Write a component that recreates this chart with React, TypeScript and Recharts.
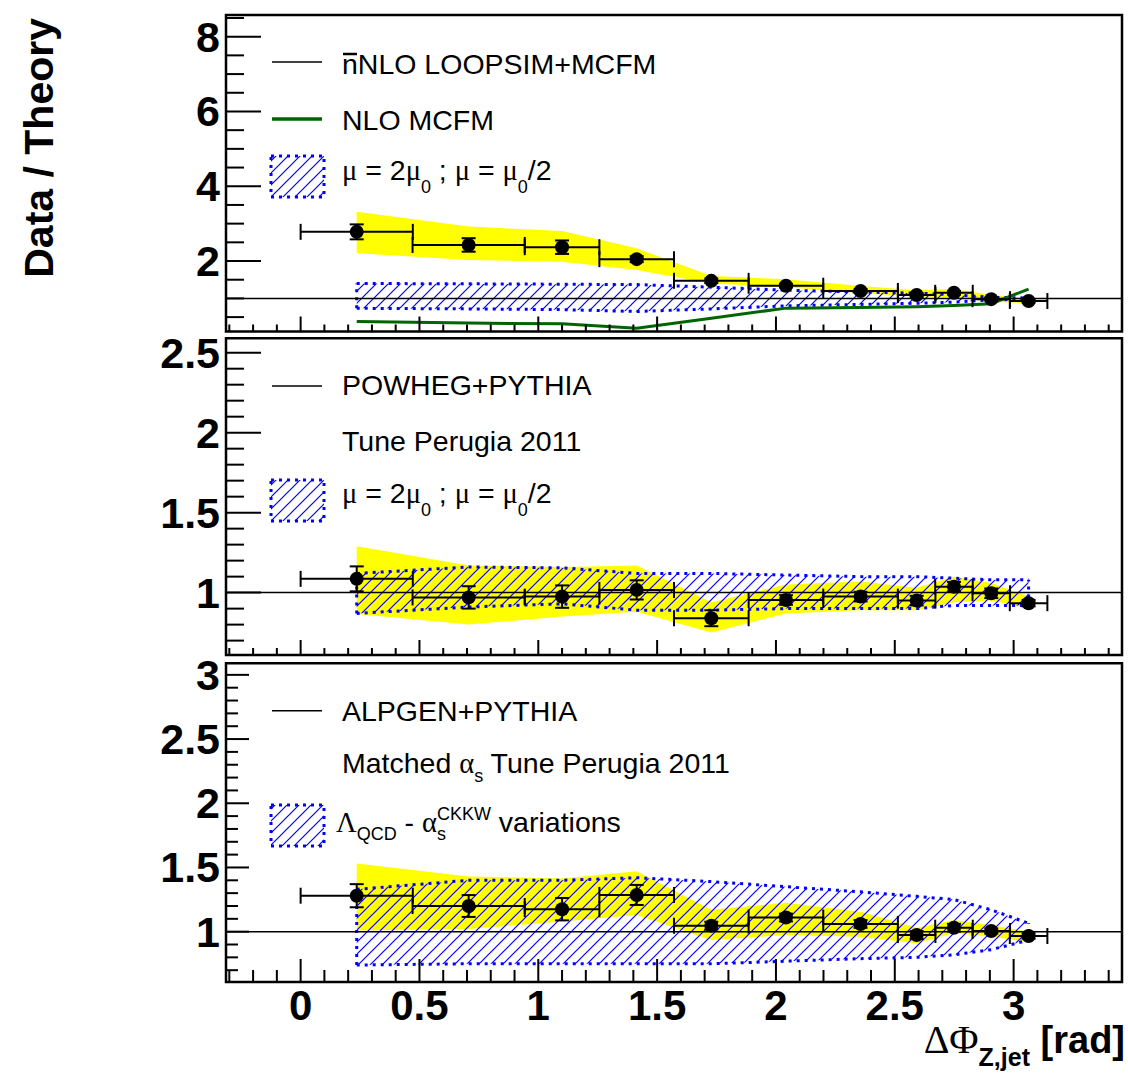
import React from "react";
import {
  ComposedChart,
  Area,
  Line,
  Scatter,
  ErrorBar,
  XAxis,
  YAxis,
  ReferenceLine,
  ReferenceArea,
  Legend,
} from "recharts";

const SANS = "'Liberation Sans', Arial, Helvetica, sans-serif";
const SERIF = "'Liberation Serif', 'Times New Roman', serif";
const YELLOW = "#ffff00";
const BLUE = "#0000ff";
const GREEN = "#006400";

// ΔΦ(Z,jet) bins in rad: centres and half-widths
const binCenters = [0.236, 0.707, 1.1, 1.414, 1.728, 2.042, 2.356, 2.592, 2.749, 2.906, 3.063];
const binHalfWidths = [0.236, 0.236, 0.157, 0.157, 0.157, 0.157, 0.157, 0.079, 0.079, 0.079, 0.079];

const xDomain: [number, number] = [-0.314, 3.456];
const xMajorTicks = [0, 0.5, 1, 1.5, 2, 2.5, 3];

// panel 1: data / nNLO LoopSim+MCFM
const loopsimRatio = [2.78, 2.43, 2.37, 2.05, 1.47, 1.34, 1.2, 1.09, 1.15, 0.98, 0.93];
const loopsimStat = [0.2, 0.18, 0.18, 0.08, 0.06, 0.05, 0.05, 0.05, 0.05, 0.04, 0.04];
const loopsimSystLo = [2.21, 2.03, 1.98, 1.76, 1.4, 1.3, 1.14, 1.05, 1.03, 0.91, 0.87];
const loopsimSystHi = [3.32, 2.92, 2.8, 2.34, 1.6, 1.51, 1.33, 1.22, 1.25, 1.09, 1.0];
const loopsimScaleLo = [0.735, 0.72, 0.7, 0.65, 0.72, 0.8, 0.84, 0.87, 0.9, 0.96, 0.98];
const loopsimScaleHi = [1.4, 1.39, 1.38, 1.37, 1.3, 1.22, 1.17, 1.14, 1.1, 1.03, 1.01];
const mcfmNloRatio = [0.38, 0.34, 0.32, 0.2, 0.47, 0.74, 0.76, 0.78, 0.81, 0.86, 1.25];
const loopsimYMajors = [2, 4, 6, 8];

// panel 2: data / POWHEG+PYTHIA
const powhegRatio = [1.086, 0.97, 0.975, 1.017, 0.84, 0.954, 0.975, 0.95, 1.037, 0.996, 0.934];
const powhegStat = [0.078, 0.07, 0.07, 0.06, 0.05, 0.03, 0.03, 0.03, 0.03, 0.03, 0.02];
const powhegSystLo = [0.867, 0.8, 0.85, 0.88, 0.75, 0.87, 0.89, 0.89, 0.94, 0.95, 0.9];
const powhegSystHi = [1.29, 1.17, 1.16, 1.17, 0.94, 1.05, 1.07, 1.03, 1.1, 1.06, 0.975];
const powhegScaleLo = [0.87, 0.91, 0.93, 0.89, 0.89, 0.9, 0.9, 0.9, 0.92, 0.92, 0.92];
const powhegScaleHi = [1.12, 1.16, 1.155, 1.12, 1.12, 1.11, 1.1, 1.1, 1.09, 1.08, 1.08];
const powhegYMajors = [1, 1.5, 2, 2.5];

// panel 3: data / ALPGEN+PYTHIA
const alpgenRatio = [1.28, 1.2, 1.175, 1.286, 1.047, 1.11, 1.06, 0.974, 1.031, 1.005, 0.966];
const alpgenStat = [0.09, 0.085, 0.087, 0.078, 0.03, 0.03, 0.03, 0.03, 0.03, 0.02, 0.02];
const alpgenSystLo = [1.01, 1.02, 1.08, 1.13, 0.935, 0.975, 0.96, 0.91, 0.99, 0.96, 0.92];
const alpgenSystHi = [1.53, 1.43, 1.415, 1.47, 1.17, 1.225, 1.155, 1.03, 1.09, 1.05, 1.0];
const alpgenVarLo = [0.74, 0.75, 0.75, 0.75, 0.75, 0.77, 0.79, 0.8, 0.82, 0.86, 0.935];
const alpgenVarHi = [1.33, 1.4, 1.4, 1.42, 1.39, 1.35, 1.31, 1.275, 1.25, 1.17, 1.065];
const alpgenYMajors = [1, 1.5, 2, 2.5, 3];

function tickRange(from: number, to: number, step: number) {
  const out: number[] = [];
  for (let v = from; v <= to + 1e-9; v += step) out.push(Math.round(v * 1000) / 1000);
  return out;
}

const xTicks = tickRange(-0.3, 3.4, 0.1);

type Row = {
  x: number;
  ex: number;
  y: number;
  ey: number;
  syst: [number, number];
  scale: [number, number];
  nlo?: number;
};

function buildRows(
  ratio: number[],
  stat: number[],
  systLo: number[],
  systHi: number[],
  scaleLo: number[],
  scaleHi: number[],
  nlo?: number[]
): Row[] {
  return binCenters.map((x, i) => ({
    x,
    ex: binHalfWidths[i],
    y: ratio[i],
    ey: stat[i],
    syst: [systLo[i], systHi[i]],
    scale: [scaleLo[i], scaleHi[i]],
    nlo: nlo ? nlo[i] : undefined,
  }));
}

const isIn = (list: number[], v: number) => list.some((m) => Math.abs(m - v) < 1e-6);

function makeYTick(majors: number[], majorLen: number, minorLen: number) {
  return function YTick(props: any) {
    const { x, y, payload } = props;
    const v = payload.value as number;
    const major = isIn(majors, v);
    return (
      <g>
        <line x1={x} x2={x + (major ? majorLen : minorLen)} y1={y} y2={y} stroke="#000" strokeWidth={2} />
        {major && (
          <text x={x - 6} y={y + 15} textAnchor="end" fontFamily={SANS} fontWeight="bold" fontSize={43} fill="#000">
            {String(v)}
          </text>
        )}
      </g>
    );
  };
}

function makeXTick(majorLen: number, minorLen: number, labels: boolean) {
  return function XTick(props: any) {
    const { x, y, payload } = props;
    const v = payload.value as number;
    const major = isIn(xMajorTicks, v);
    return (
      <g>
        <line x1={x} x2={x} y1={y} y2={y - (major ? majorLen : minorLen)} stroke="#000" strokeWidth={2} />
        {labels && major && (
          <text x={x} y={y + 38} textAnchor="middle" fontFamily={SANS} fontWeight="bold" fontSize={42} fill="#000">
            {String(v)}
          </text>
        )}
      </g>
    );
  };
}

function YTitle() {
  return (
    <text
      transform="translate(53,18) rotate(-90)"
      textAnchor="end"
      fontFamily={SANS}
      fontWeight="bold"
      fontSize={41}
      fill="#000"
    >
      Data / Theory
    </text>
  );
}

// chart-local coordinates of the bottom panel (its div sits at top 639)
function XTitle() {
  return (
    <text x={1125} y={414} textAnchor="end" fill="#000" style={{ whiteSpace: "pre" }}>
      <tspan fontFamily={SERIF} fontSize={40}>ΔΦ</tspan>
      <tspan fontFamily={SANS} fontWeight="bold" fontSize={25} dy={13}>Z,jet</tspan>
      <tspan fontFamily={SANS} fontWeight="bold" fontSize={38} dy={-13}>{" [rad]"}</tspan>
    </text>
  );
}

function HatchPattern({ id }: { id: string }) {
  return (
    <pattern id={id} patternUnits="userSpaceOnUse" width={12} height={12}>
      <path
        d="M0,12 L12,0 M-3,3 L3,-3 M9,15 L15,9"
        fill="none"
        stroke={BLUE}
        strokeWidth={1.2}
        style={{ stroke: BLUE }}
      />
    </pattern>
  );
}

function LegendLayer({ offset, height, hatchId, children }: { offset: number; height: number; hatchId: string; children: React.ReactNode }) {
  return (
    <svg width={1128} height={height} style={{ position: "absolute", left: 0, top: 0, overflow: "visible" }}>
      <defs>
        <HatchPattern id={hatchId} />
      </defs>
      <g transform={`translate(0,${-offset})`} fontFamily={SANS} fontSize={28.5} style={{ whiteSpace: "pre" }}>
        {children}
      </g>
    </svg>
  );
}

function HatchBox({ y, id }: { y: number; id: string }) {
  return (
    <rect x={271} y={y} width={53} height={41} fill={`url(#${id})`} stroke={BLUE} strokeWidth={3} strokeDasharray="3 5" />
  );
}

function MuRow({ y }: { y: number }) {
  return (
    <text x={342} y={y} fill="#000">
      <tspan fontFamily={SERIF}>μ</tspan>
      <tspan>{" = 2"}</tspan>
      <tspan fontFamily={SERIF}>μ</tspan>
      <tspan fontSize={18} dy={13}>0</tspan>
      <tspan dy={-13}>{" ; "}</tspan>
      <tspan fontFamily={SERIF}>μ</tspan>
      <tspan>{" = "}</tspan>
      <tspan fontFamily={SERIF}>μ</tspan>
      <tspan fontSize={18} dy={13}>0</tspan>
      <tspan dy={-13}>/2</tspan>
    </text>
  );
}

interface PanelProps {
  top: number;
  height: number;
  marginTop: number;
  marginBottom: number;
  yDomain: [number, number];
  yMajors: number[];
  yTicks: number[];
  yMajorLen: number;
  yMinorLen: number;
  xMajorLen: number;
  xMinorLen: number;
  rows: Row[];
  hatchId: string;
  showNlo?: boolean;
  xLabels?: boolean;
  yTitle?: boolean;
  legend: React.ReactNode;
}

function Panel(p: PanelProps) {
  const first = p.rows[0];
  const last = p.rows[p.rows.length - 1];
  return (
    <div style={{ position: "absolute", left: 0, top: p.top, width: 1128, height: p.height }}>
      <ComposedChart
        width={1128}
        height={p.height}
        data={p.rows}
        margin={{ top: p.marginTop, right: 6, bottom: p.marginBottom, left: 0 }}
      >
        <defs>
          <HatchPattern id={p.hatchId} />
        </defs>
        <XAxis
          type="number"
          dataKey="x"
          domain={xDomain}
          allowDataOverflow
          ticks={xTicks}
          interval={0}
          height={1}
          tickSize={0}
          tickMargin={0}
          tickLine={false}
          axisLine={false}
          tick={makeXTick(p.xMajorLen, p.xMinorLen, !!p.xLabels)}
          label={p.xLabels ? <XTitle /> : undefined}
        />
        <YAxis
          type="number"
          domain={p.yDomain}
          allowDataOverflow
          ticks={p.yTicks}
          interval={0}
          width={226}
          tickSize={0}
          tickMargin={0}
          tickLine={false}
          axisLine={false}
          tick={makeYTick(p.yMajors, p.yMajorLen, p.yMinorLen)}
          label={p.yTitle ? <YTitle /> : undefined}
        />
        <Area
          type="linear"
          dataKey="syst"
          fill={YELLOW}
          fillOpacity={1}
          stroke="none"
          dot={false}
          activeDot={false}
          isAnimationActive={false}
        />
        <Area
          type="linear"
          dataKey="scale"
          fill={`url(#${p.hatchId})`}
          fillOpacity={1}
          stroke={BLUE}
          strokeWidth={3}
          strokeDasharray="3 5"
          dot={false}
          activeDot={false}
          isAnimationActive={false}
        />
        <ReferenceLine
          segment={[{ x: first.x, y: first.scale[0] }, { x: first.x, y: first.scale[1] }]}
          stroke={BLUE}
          strokeWidth={3}
          strokeDasharray="3 5"
        />
        <ReferenceLine
          segment={[{ x: last.x, y: last.scale[0] }, { x: last.x, y: last.scale[1] }]}
          stroke={BLUE}
          strokeWidth={3}
          strokeDasharray="3 5"
        />
        <ReferenceLine y={1} stroke="#000" strokeWidth={1.5} />
        {p.showNlo && (
          <Line
            type="linear"
            dataKey="nlo"
            stroke={GREEN}
            strokeWidth={3}
            dot={false}
            activeDot={false}
            isAnimationActive={false}
          />
        )}
        <Scatter
          dataKey="y"
          fill="#000"
          isAnimationActive={false}
          shape={(s: any) => <circle cx={s.cx} cy={s.cy} r={7} fill="#000" />}
        >
          <ErrorBar dataKey="ex" direction="x" width={8} stroke="#000" strokeWidth={2} isAnimationActive={false} />
          <ErrorBar dataKey="ey" direction="y" width={7} stroke="#000" strokeWidth={2} isAnimationActive={false} />
        </Scatter>
        <ReferenceArea
          x1={xDomain[0]}
          x2={xDomain[1]}
          y1={p.yDomain[0]}
          y2={p.yDomain[1]}
          fill="none"
          stroke="#000"
          strokeWidth={2.5}
          ifOverflow="visible"
        />
        <Legend
          layout="horizontal"
          verticalAlign="middle"
          align="center"
          wrapperStyle={{ position: "absolute", left: 0, top: 0, width: 1128, height: p.height }}
          content={() => (
            <LegendLayer offset={p.top} height={p.height} hatchId={`${p.hatchId}-key`}>
              {p.legend}
            </LegendLayer>
          )}
        />
      </ComposedChart>
    </div>
  );
}

const loopsimRows = buildRows(loopsimRatio, loopsimStat, loopsimSystLo, loopsimSystHi, loopsimScaleLo, loopsimScaleHi, mcfmNloRatio);
const powhegRows = buildRows(powhegRatio, powhegStat, powhegSystLo, powhegSystHi, powhegScaleLo, powhegScaleHi);
const alpgenRows = buildRows(alpgenRatio, alpgenStat, alpgenSystLo, alpgenSystHi, alpgenVarLo, alpgenVarHi);

export default function App() {
  return (
    <div style={{ position: "absolute", left: 0, top: 0, width: 1128, height: 1073, background: "#fff" }}>
      <Panel
        top={0}
        height={340}
        marginTop={15}
        marginBottom={7.5}
        yDomain={[0.115, 8.58]}
        yMajors={loopsimYMajors}
        yTicks={tickRange(0.5, 8.5, 0.5)}
        yMajorLen={35}
        yMinorLen={18}
        xMajorLen={15}
        xMinorLen={7}
        rows={loopsimRows}
        hatchId="hatch-loopsim"
        showNlo
        yTitle
        legend={
          <>
            <line x1={272} x2={322} y1={62} y2={62} stroke="#000" strokeWidth={1.5} />
            <text x={342} y={74} fill="#000">nNLO LOOPSIM+MCFM</text>
            <line x1={343} x2={357} y1={54} y2={54} stroke="#000" strokeWidth={2.5} />
            <line x1={272} x2={322} y1={119} y2={119} stroke={GREEN} strokeWidth={3.5} />
            <text x={342} y={130} fill="#000">NLO MCFM</text>
            <HatchBox y={156} id="hatch-loopsim-key" />
            <MuRow y={180} />
          </>
        }
      />
      <Panel
        top={315}
        height={345}
        marginTop={23.3}
        marginBottom={4}
        yDomain={[0.61, 2.59]}
        yMajors={powhegYMajors}
        yTicks={tickRange(0.7, 2.5, 0.1)}
        yMajorLen={35}
        yMinorLen={18}
        xMajorLen={15}
        xMinorLen={7}
        rows={powhegRows}
        hatchId="hatch-powheg"
        legend={
          <>
            <line x1={272} x2={322} y1={386} y2={386} stroke="#000" strokeWidth={1.5} />
            <text x={342} y={395} fill="#000">POWHEG+PYTHIA</text>
            <text x={342} y={450.7} fill="#000">Tune Perugia 2011</text>
            <HatchBox y={480} id="hatch-powheg-key" />
            <MuRow y={503} />
          </>
        }
      />
      <Panel
        top={639}
        height={434}
        marginTop={24.3}
        marginBottom={90}
        yDomain={[0.608, 3.09]}
        yMajors={alpgenYMajors}
        yTicks={tickRange(0.7, 3.0, 0.1)}
        yMajorLen={23}
        yMinorLen={12}
        xMajorLen={23}
        xMinorLen={12}
        rows={alpgenRows}
        hatchId="hatch-alpgen"
        xLabels
        legend={
          <>
            <line x1={272} x2={322} y1={710.7} y2={710.7} stroke="#000" strokeWidth={1.5} />
            <text x={342} y={720.7} fill="#000">ALPGEN+PYTHIA</text>
            <text x={342} y={773} fill="#000">
              <tspan>{"Matched "}</tspan>
              <tspan fontFamily={SERIF}>α</tspan>
              <tspan fontSize={18} dy={9}>s</tspan>
              <tspan dy={-9}>{" Tune Perugia 2011"}</tspan>
            </text>
            <HatchBox y={805} id="hatch-alpgen-key" />
            <text x={336} y={831.7} fill="#000">
              <tspan fontFamily={SERIF}>Λ</tspan>
              <tspan fontSize={18} dy={8.3}>QCD</tspan>
              <tspan dy={-8.3}>{" - "}</tspan>
              <tspan fontFamily={SERIF}>α</tspan>
              <tspan fontSize={18} dy={8.3}>s</tspan>
              <tspan fontSize={18} dx={-9} dy={-20}>CKKW</tspan>
              <tspan dy={11.7}>{" variations"}</tspan>
            </text>
          </>
        }
      />
    </div>
  );
}
